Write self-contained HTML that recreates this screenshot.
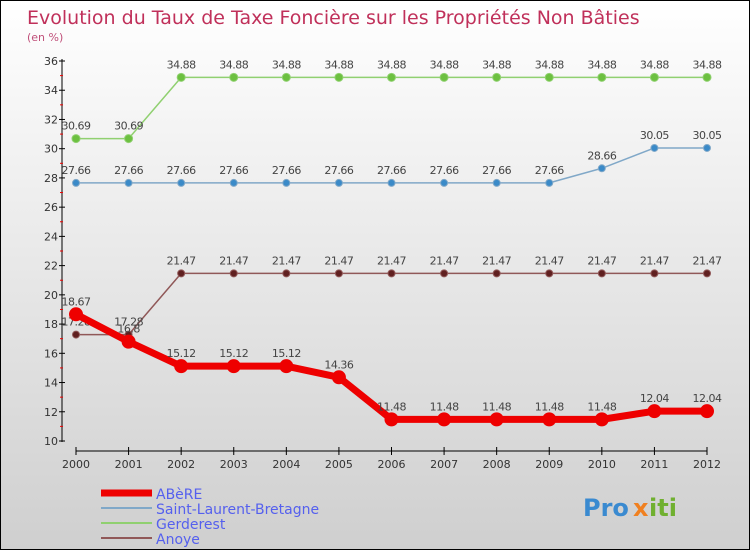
<!DOCTYPE html>
<html><head><meta charset="utf-8"><style>
body{margin:0}
#c{width:750px;height:550px;position:relative;box-sizing:border-box;border:1px solid #000;background:linear-gradient(#ffffff,#cfcfcf);font-family:"DejaVu Sans","Liberation Sans",sans-serif;overflow:hidden}
</style></head><body>
<div id="c">
<svg id="s" width="750" height="550"></svg>
</div>
<script>
const years=["2000","2001","2002","2003","2004","2005","2006","2007","2008","2009","2010","2011","2012"];
const abere=[18.67,16.8,15.12,15.12,15.12,14.36,11.48,11.48,11.48,11.48,11.48,12.04,12.04];
const stlaurent=[27.66,27.66,27.66,27.66,27.66,27.66,27.66,27.66,27.66,27.66,28.66,30.05,30.05];
const gerderest=[30.69,30.69,34.88,34.88,34.88,34.88,34.88,34.88,34.88,34.88,34.88,34.88,34.88];
const anoye=[17.28,17.28,21.47,21.47,21.47,21.47,21.47,21.47,21.47,21.47,21.47,21.47,21.47];
const yTicks=[10,12,14,16,18,20,22,24,26,28,30,32,34,36];
const NS="http://www.w3.org/2000/svg",svg=document.getElementById('s');
function X(i){return 75+i*(706-75)/12}
function Y(v){return 440-(v-10)*(380/26)}
function mk(t,a,txt){const e=document.createElementNS(NS,t);for(const k in a)e.setAttribute(k,a[k]);if(txt!==undefined)e.textContent=txt;svg.appendChild(e);return e}
function fmt(v){return String(v)}
let e;
e=mk('text',{x:26,y:23,fill:'#c0305a','font-size':19},'Evolution du Taux de Taxe Foncière sur les Propriétés Non Bâties');

e=mk('text',{x:26,y:40,fill:'#c0507a','font-size':11},'(en %)');

e=mk('line',{x1:61,y1:58,x2:61,y2:441,stroke:'#000','stroke-width':1});

e=mk('line',{x1:75,y1:450,x2:706,y2:450,stroke:'#000','stroke-width':1});

yTicks.forEach((t,i)=>{
 e=mk('line',{x1:58,y1:Y(t),x2:64,y2:Y(t),stroke:'#000'});
 
 if(i<yTicks.length-1){e=mk('line',{x1:59,y1:Y(t+1),x2:62,y2:Y(t+1),stroke:'#e00'});
 }
 e=mk('text',{x:57,y:Y(t)+4,'text-anchor':'end','font-size':11,fill:'#333'},t);
 
});
years.forEach((y,i)=>{
 e=mk('line',{x1:X(i),y1:446,x2:X(i),y2:454,stroke:'#000'});
 
 e=mk('text',{x:X(i),y:467,'text-anchor':'middle','font-size':11,fill:'#333'},y);
 
});
function series(name,vals,color,w,r,dot){
 const p=vals.map((v,i)=>X(i)+','+Y(v)).join(' ');
 e=mk('polyline',{points:p,fill:'none',stroke:color,'stroke-width':w,'stroke-linejoin':'round'});
 
 vals.forEach((v,i)=>{
  e=mk('circle',{cx:X(i),cy:Y(v),r:r,fill:dot,stroke:color,'stroke-width':1});
  
  e=mk('text',{x:X(i),y:Y(v)-9,'text-anchor':'middle','font-size':11,fill:'#444','letter-spacing':'-0.5'},fmt(v));
  
 });
}
series('gerderest',gerderest,'#90d070',1.5,4,'#6cc040');
series('saint-laurent',stlaurent,'#80a8c8',1.5,3.5,'#3a8ac8');
series('anoye',anoye,'#905858',1.5,3.5,'#602020');
series('abere',abere,'#ee0000',7,6.5,'#ee0000');
const leg=[['ABèRE','#ee0000',7],['Saint-Laurent-Bretagne','#80a8c8',2],['Gerderest','#90d070',2],['Anoye','#905858',2]];
leg.forEach((l,i)=>{
 const y=492+i*15;
 e=mk('line',{x1:100,y1:y,x2:151,y2:y,stroke:l[1],'stroke-width':l[2]});
 
 e=mk('text',{x:155,y:y+6,'font-size':14,fill:'#5560ee'},l[0]);
 
});
e=mk('text',{x:582,y:515,'font-size':24,'font-weight':'bold',fill:'#3a8ad0'},'Pro');

e=mk('text',{x:632,y:515,'font-size':24,'font-weight':'bold',fill:'#f08020'},'x');

e=mk('text',{x:648,y:515,'font-size':24,'font-weight':'bold',fill:'#70b030'},'iti');

</script>
</body></html>
